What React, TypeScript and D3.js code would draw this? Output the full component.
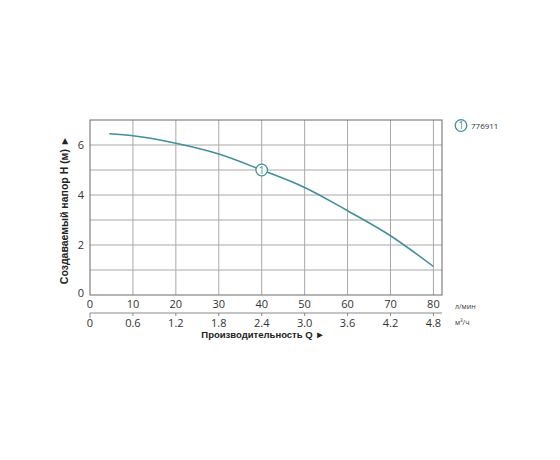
import * as d3 from "d3";

const flowLpm = [4.5, 10, 20, 30, 40, 50, 60, 70, 80];
const headM = [6.45, 6.37, 6.07, 5.64, 5.0, 4.3, 3.37, 2.37, 1.14];
const lpmTicks = [0, 10, 20, 30, 40, 50, 60, 70, 80];
const m3hTicks = ["0", "0.6", "1.2", "1.8", "2.4", "3.0", "3.6", "4.2", "4.8"];
const headTicks = [0, 2, 4, 6];
const seriesName = "776911";
const markerAt = 40;

const plot = { left: 90, right: 442, top: 120, bottom: 295 };
const teal = "#3f8f9c";

export default function App() {
  const x = d3.scaleLinear().domain([0, 82]).range([plot.left, plot.right]);
  const y = d3.scaleLinear().domain([0, 7]).range([plot.bottom, plot.top]);
  const pts = flowLpm.map((q, i) => [q, headM[i]] as [number, number]);
  const line = d3
    .line<[number, number]>()
    .x((d) => x(d[0]))
    .y((d) => y(d[1]))
    .curve(d3.curveMonotoneX);
  const mi = flowLpm.indexOf(markerAt);
  const axis2 = 313;

  return (
    <svg
      width={560}
      height={460}
      style={{ position: "absolute", left: 0, top: 0, background: "#fff" }}
      fontFamily="'Open Sans', sans-serif"
    >
      {d3.range(1, 7).map((v) => (
        <line key={"h" + v} x1={plot.left} x2={plot.right} y1={y(v)} y2={y(v)} stroke="#a8a8a8" strokeWidth={1} />
      ))}
      {lpmTicks.slice(1).map((v) => (
        <line key={"v" + v} x1={x(v)} x2={x(v)} y1={plot.top} y2={plot.bottom} stroke="#a8a8a8" strokeWidth={1} />
      ))}
      <rect
        x={plot.left}
        y={plot.top}
        width={plot.right - plot.left}
        height={plot.bottom - plot.top}
        fill="none"
        stroke="#6b6b6b"
        strokeWidth={1}
      />
      <path d={line(pts) ?? ""} fill="none" stroke={teal} strokeWidth={1.5} />
      <circle cx={x(markerAt)} cy={y(headM[mi])} r={5.8} fill="#fff" stroke={teal} strokeWidth={1.3} />
      <text x={x(markerAt)} y={y(headM[mi]) + 3.6} textAnchor="middle" fontSize={10} fill={teal}>
        1
      </text>

      {headTicks.map((v) => (
        <text key={"yt" + v} x={84} y={y(v) + (v === 0 ? 2 : 4)} textAnchor="end" fontSize={11} fill="#333">
          {v}
        </text>
      ))}
      {lpmTicks.map((v) => (
        <text key={"xt" + v} x={x(v)} y={308} textAnchor="middle" fontSize={11} fill="#333">
          {v}
        </text>
      ))}
      <text x={455} y={309} fontSize={7} fill="#333">л/мин</text>

      <line x1={plot.left} x2={plot.right} y1={axis2} y2={axis2} stroke="#8a8a8a" strokeWidth={1} />
      {lpmTicks.map((v, i) => (
        <line
          key={"t2" + v}
          x1={x(v)}
          x2={x(v)}
          y1={axis2}
          y2={axis2 + (i === 0 ? 5 : 3)}
          stroke="#8a8a8a"
          strokeWidth={1}
        />
      ))}
      {m3hTicks.map((s, i) => (
        <text key={"m" + s} x={x(lpmTicks[i])} y={327} textAnchor="middle" fontSize={11} fill="#333">
          {s}
        </text>
      ))}
      <text x={455} y={325} fontSize={7} fill="#333">м³/ч</text>

      <text
        x={263}
        y={338}
        textAnchor="middle"
        fontSize={9.5}
        fontWeight="bold"
        fontFamily="'Liberation Sans', Arial, sans-serif"
        fill="#222"
      >
        Производительность Q ►
      </text>
      <text
        transform="translate(68,210) rotate(-90)"
        textAnchor="middle"
        fontSize={10.5}
        fontWeight="bold"
        fontFamily="'Liberation Sans', Arial, sans-serif"
        fill="#222"
      >
        Создаваемый напор H (м) ►
      </text>

      <circle cx={461} cy={125.5} r={5.8} fill="#fff" stroke={teal} strokeWidth={1.3} />
      <text x={461} y={129.2} textAnchor="middle" fontSize={10} fill={teal}>
        1
      </text>
      <text x={471} y={128.5} fontSize={8} fill="#333">
        {seriesName}
      </text>
    </svg>
  );
}
